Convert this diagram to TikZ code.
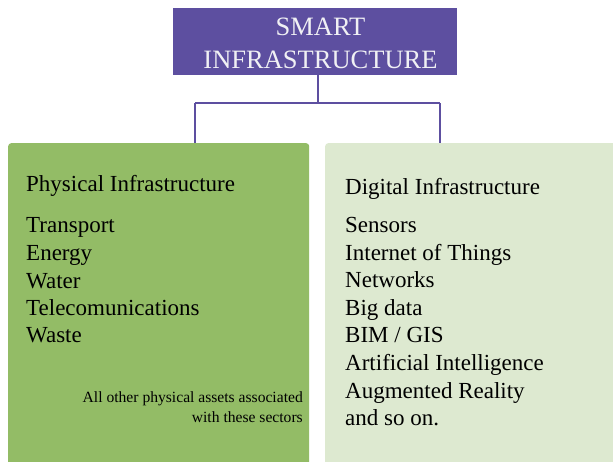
\documentclass[tikz,border=0pt]{standalone}
\usepackage{fontspec}
\setmainfont{LiberationSerif}[Extension=.ttf, UprightFont=*-Regular, BoldFont=*-Bold]
\usetikzlibrary{calc}
\definecolor{topc}{HTML}{5D4FA0}
\definecolor{lgreen}{HTML}{93BC66}
\definecolor{pgreen}{HTML}{DDE9D0}
\definecolor{titletxt}{HTML}{F0F0F4}
\tikzset{
  panel/.style={rounded corners=3pt, inner sep=0pt, anchor=north west},
  conn/.style={draw=topc, line width=2pt},
  item/.style={anchor=base west, inner sep=0pt, font=\fontsize{23}{28}\selectfont, text=black},
  ttl/.style={anchor=base, inner sep=0pt, text=titletxt, font=\fontsize{26.5}{33}\selectfont},
}
\begin{document}
\begin{tikzpicture}[x=1pt,y=-1pt]
\useasboundingbox (0,0) rectangle (613,461);
\fill[white] (0,0) rectangle (613,461);
% title box
\node[fill=topc, minimum width=284pt, minimum height=67pt, inner sep=0pt, anchor=north west] (top) at (173,8) {};
\node[ttl] (t1) at (320.5,35) {SMART};
\node[ttl] (t2) at (320.5,68) {INFRASTRUCTURE};
% panels
\node[panel, fill=lgreen, minimum width=301pt, minimum height=325pt] (left) at (8,143) {};
\node[panel, fill=pgreen, minimum width=295pt, minimum height=325pt] (right) at (325,143) {};
% connectors
\coordinate (j) at (318,103);
\coordinate (cl) at (195,103);
\coordinate (cr) at (440,103);
\draw[conn] (top.south -| j) -- (j);
\draw[conn] (cl) -- (cr);
\draw[conn] (cl) -- (cl |- left.north);
\draw[conn] (cr) -- (cr |- right.north);
% left texts
\node[item] (lh) at (26,191) {Physical Infrastructure};
\node[item] (l1) at (26,232) {Transport};
\node[item] (l2) at (26,260) {Energy};
\node[item] (l3) at (26,288) {Water};
\node[item] (l4) at (26,315) {Telecomunications};
\node[item] (l5) at (26,342) {Waste};
\node[anchor=base east, inner sep=0pt, align=right, font=\fontsize{15.6}{20}\selectfont] (lnote) at (303,422) {All other physical assets associated\\with these sectors};
% right texts
\node[item] (rh) at (345,194) {Digital Infrastructure};
\node[item] (r1) at (345,232) {Sensors};
\node[item] (r2) at (345,260) {Internet of Things};
\node[item] (r3) at (345,287) {Networks};
\node[item] (r4) at (345,315) {Big data};
\node[item] (r5) at (345,342) {BIM / GIS};
\node[item] (r6) at (345,370) {Artificial Intelligence};
\node[item] (r7) at (345,398) {Augmented Reality};
\node[item] (r8) at (345,425) {and so on.};
\end{tikzpicture}
\end{document}
